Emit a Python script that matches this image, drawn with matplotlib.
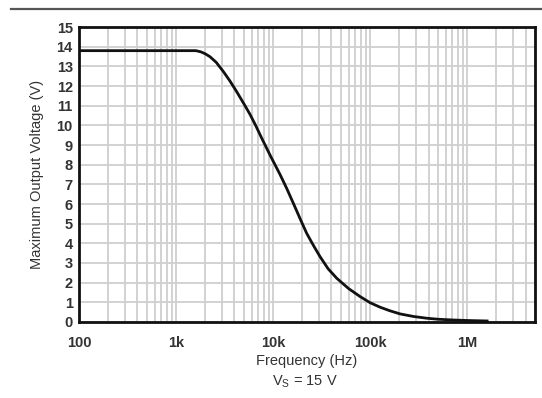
import numpy as np
import matplotlib
matplotlib.use("Agg")
import matplotlib.pyplot as plt
from matplotlib.lines import Line2D
from matplotlib.ticker import LogLocator, FixedLocator, NullFormatter

plt.rcParams['font.family'] = ['Liberation Sans', 'DejaVu Sans']

# Maximum output voltage vs frequency, Vs = 15 V
freq_hz = [100, 1000, 1600, 1800, 2000, 2240, 2600, 3080, 3600, 4220,
           5000, 5800, 6640, 7600, 9500, 11800, 13800, 16200, 19000,
           22200, 26000, 30500, 37000, 45400, 60000, 79000, 100000,
           127000, 160000, 204000, 280000, 385000, 500000, 725000,
           1100000, 1660000]
vout_v = [13.8, 13.8, 13.8, 13.74, 13.64, 13.49, 13.2, 12.73, 12.25, 11.71,
          11.1, 10.55, 9.98, 9.37, 8.4, 7.5, 6.8, 6.03, 5.25,
          4.51, 3.9, 3.32, 2.7, 2.22, 1.7, 1.29, 0.98,
          0.75, 0.57, 0.41, 0.28, 0.19, 0.14, 0.10,
          0.07, 0.05]

x_ticks = [100, 1e3, 1e4, 1e5, 1e6]
x_labels = ['100', '1k', '10k', '100k', '1M']
y_ticks = list(range(0, 16))

fig = plt.figure(figsize=(5.42, 3.98), dpi=100)
ax = fig.add_axes([0.1458, 0.191, 0.987 - 0.1458, 0.932 - 0.191])

ax.plot(freq_hz, vout_v, color='#111111', linewidth=2.0, solid_capstyle='butt',
        solid_joinstyle='round', zorder=3)

ax.set_xscale('log')
ax.set_xlim(100, 5e6)
ax.set_ylim(0, 15)

ax.xaxis.set_major_locator(FixedLocator(x_ticks))
ax.set_xticklabels(x_labels)
ax.xaxis.set_minor_locator(LogLocator(base=10, subs=np.arange(2, 10)))
ax.xaxis.set_minor_formatter(NullFormatter())
ax.set_yticks(y_ticks)

ax.grid(True, which='both', axis='x', color='#cfcfcf', linewidth=1.3)
ax.grid(True, which='major', axis='y', color='#cfcfcf', linewidth=1.3)
ax.set_axisbelow(True)

ax.tick_params(which='both', length=0, labelsize=10.5, labelcolor='#333333')
ax.tick_params(axis='x', pad=10)
ax.tick_params(axis='y', pad=4.5)
for lbl in ax.get_xticklabels() + ax.get_yticklabels():
    lbl.set_fontweight('bold')
for s in ax.spines.values():
    s.set_linewidth(2.0)
    s.set_color('#111111')

ax.set_xlabel('Frequency (Hz)', fontsize=10.5, color='#333333', labelpad=3)
ax.set_ylabel('Maximum Output Voltage (V)', fontsize=10.5, color='#333333', labelpad=9)

fig.text(0.563, 0.04, r'V$_\mathregular{S}$ = 15 V', ha='center', va='center',
         fontsize=10.5, color='#333333')

fig.add_artist(Line2D([0.02, 1.0], [1 - 9 / 398, 1 - 9 / 398],
                      transform=fig.transFigure, color='#555555', linewidth=1.6))

fig.savefig('out.png', dpi=100)
